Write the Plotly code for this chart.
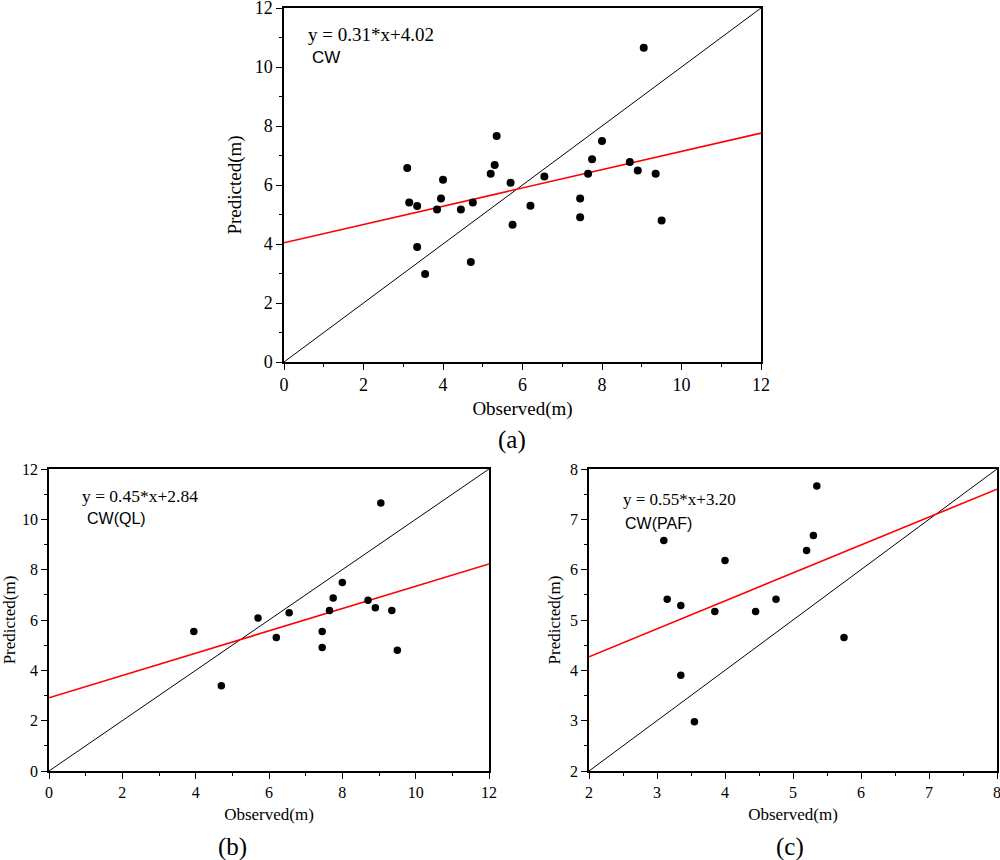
import plotly.graph_objects as go

# observed / predicted crown width (b) and (c)
obs_ql = [3.95, 4.70, 5.70, 6.20, 6.55, 7.45, 7.45, 7.65, 7.75, 8.00, 8.70, 8.90, 9.05, 9.35, 9.50]
pred_ql = [5.54, 3.39, 6.08, 5.30, 6.29, 5.54, 4.91, 6.38, 6.87, 7.49, 6.78, 6.49, 10.65, 6.38, 4.80]
obs_paf = [3.10, 3.15, 3.35, 3.35, 3.55, 3.85, 4.00, 4.45, 4.75, 5.20, 5.30, 5.35, 5.75]
pred_paf = [6.58, 5.41, 5.29, 3.90, 2.98, 5.17, 6.18, 5.17, 5.41, 6.38, 6.68, 7.66, 4.65]

# fitted lines (slope, intercept) as drawn
fit_all = (0.31, 4.04)
fit_ql = (0.443, 2.91)
fit_paf = (0.555, 3.16)

eq_labels = ["y = 0.31*x+4.02", "y = 0.45*x+2.84", "y = 0.55*x+3.20"]
group_labels = ["CW", "CW(QL)", "CW(PAF)"]
panel_labels = ["(a)", "(b)", "(c)"]

SERIF = "Liberation Serif"
SANS = "Liberation Sans"

W, H = 1000, 860


def px(x):
    return x / W


def py(y):
    return 1 - y / H


fig = go.Figure()

panels = [
    dict(obs=obs_ql + obs_paf, pred=pred_ql + pred_paf, fit=fit_all, rng=(0, 12), major=2, minor=1,
         box=(284, 761, 8, 362), tick=18, title=19, eq=19, grp=17, msize=8,
         eq_pos=(306, 35), grp_pos=(310, 58), lab_pos=(512, 440), xt=7, yt=8),
    dict(obs=obs_ql, pred=pred_ql, fit=fit_ql, rng=(0, 12), major=2, minor=1,
         box=(49, 489, 469, 771), tick=16, title=17, eq=17.5, grp=16, msize=7.5,
         eq_pos=(80, 496), grp_pos=(85, 518), lab_pos=(232, 847), xt=8, yt=16),
    dict(obs=obs_paf, pred=pred_paf, fit=fit_paf, rng=(2, 8), major=1, minor=0.5,
         box=(589, 997, 469, 771), tick=16, title=17, eq=17, grp=16, msize=7.5,
         eq_pos=(621, 499), grp_pos=(623, 523), lab_pos=(790, 847), xt=8, yt=5),
]

for i, p in enumerate(panels):
    n = "" if i == 0 else str(i + 1)
    xa, ya = "x" + n, "y" + n
    lo, hi = p["rng"]
    m, b = p["fit"]

    fig.add_trace(go.Scatter(x=[lo, hi], y=[lo, hi], mode="lines", xaxis=xa, yaxis=ya,
                             line=dict(color="black", width=1), showlegend=False, hoverinfo="skip"))
    fig.add_trace(go.Scatter(x=[lo, hi], y=[m * lo + b, m * hi + b], mode="lines", xaxis=xa, yaxis=ya,
                             line=dict(color="#ff0000", width=1.6), showlegend=False, hoverinfo="skip"))
    fig.add_trace(go.Scatter(x=p["obs"], y=p["pred"], mode="markers", xaxis=xa, yaxis=ya,
                             marker=dict(color="black", size=p["msize"]), showlegend=False))

    l, r, t, btm = p["box"]
    common = dict(range=[lo, hi], dtick=p["major"], tick0=lo, showgrid=False, zeroline=False,
                  showline=True, linecolor="black", linewidth=1.5, mirror=True, automargin=False,
                  ticklabeloverflow="allow",
                  ticks="outside", ticklen=6, tickwidth=1.3, tickcolor="black",
                  minor=dict(ticks="outside", dtick=p["minor"], ticklen=3.5, tickwidth=1.2,
                             tickcolor="black", showgrid=False),
                  tickfont=dict(family=SERIF, size=p["tick"], color="black"))
    fig.layout["xaxis" + n] = dict(common, domain=[px(l), px(r)], anchor=ya,
                                   title=dict(text="Observed(m)", standoff=p["xt"],
                                              font=dict(family=SERIF, size=p["title"], color="black")))
    fig.layout["yaxis" + n] = dict(common, domain=[py(btm), py(t)], anchor=xa,
                                   title=dict(text="Predicted(m)", standoff=p["yt"],
                                              font=dict(family=SERIF, size=p["title"], color="black")))

    fig.add_annotation(x=px(p["eq_pos"][0]), y=py(p["eq_pos"][1]), xref="paper", yref="paper",
                       text=eq_labels[i], showarrow=False, xanchor="left", yanchor="middle",
                       font=dict(family=SERIF, size=p["eq"], color="black"))
    fig.add_annotation(x=px(p["grp_pos"][0]), y=py(p["grp_pos"][1]), xref="paper", yref="paper",
                       text=group_labels[i], showarrow=False, xanchor="left", yanchor="middle",
                       font=dict(family=SANS, size=p["grp"], color="black"))
    fig.add_annotation(x=px(p["lab_pos"][0]), y=py(p["lab_pos"][1]), xref="paper", yref="paper",
                       text=panel_labels[i], showarrow=False, xanchor="center", yanchor="middle",
                       font=dict(family=SERIF, size=25, color="black"))

fig.update_layout(width=W, height=H, margin=dict(l=0, r=0, t=0, b=0, autoexpand=False),
                  paper_bgcolor="white", plot_bgcolor="white")

# drop the default 8px body margin so the figure sits flush with the window
fig.write_html("out.html", config={"displayModeBar": False},
               post_script="document.body.style.margin = '0';")
